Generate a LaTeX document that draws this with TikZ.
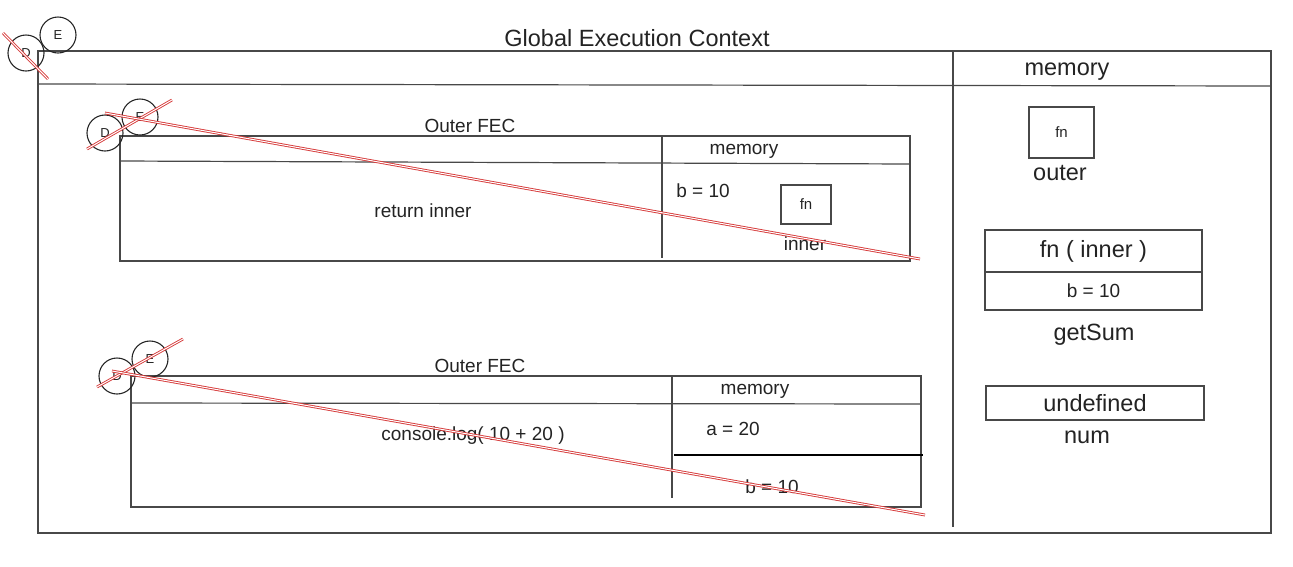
\documentclass[tikz,border=0pt]{standalone}
\usepackage{fontspec}
\setmainfont{Liberation Sans}
\begin{document}
\begin{tikzpicture}[x=1pt, y=-1pt, font=\fontsize{19}{22}\selectfont]
		\definecolor{framegray}{RGB}{72,72,72}
		\definecolor{inkgray}{RGB}{35,35,35}
		\definecolor{strikered}{RGB}{214,58,58}
		\tikzset{
			frame/.style={draw=framegray, line width=1.2pt},
			valbox/.style={draw=framegray, line width=1.2pt, inner sep=0pt, text=inkgray},
			tagcircle/.style={circle, draw=black!85, line width=1.1pt, minimum size=36pt, inner sep=0pt, font=\fontsize{13}{15}\selectfont, text=inkgray},
			strike/.style={draw=strikered, line width=0.9pt, double=white, double distance=1pt},
			txt/.style={text=inkgray, inner sep=0pt},
			big/.style={font=\fontsize{23.5}{26}\selectfont},
			small/.style={font=\fontsize{15}{17}\selectfont}
		}
		\useasboundingbox (0,0) rectangle (1293,566);
		
		% 全局执行上下文
		\draw[frame] (38,51) rectangle (1271,533);
		\draw[frame] (38,84) -- (1271,86);
		\draw[frame] (953,51) -- (953,527);
		\node[txt, big] (gectitle) at (637,38) {Global Execution Context};
		\node[txt, big] (gmem) at (1067,72) {memory};
		\node[tagcircle] (gd) at (26,53) {D};
		\node[tagcircle] (ge) at (58,35) {E};
		\draw[strike] (3,33) -- (48,79);
		
		% 全局 memory
		\node[valbox, minimum width=65pt, minimum height=51pt, small] (outerfn) at (1061.5,132.5) {fn};
		\node[txt, big] (outerlbl) at (1060,173) {outer};
		\node[valbox, minimum width=217pt, minimum height=42pt, big] (sumfn) at (1093.5,251) {fn ( inner )};
		\node[valbox, minimum width=217pt, minimum height=38pt] (sumb) at (1093.5,291) {b = 10};
		\node[txt, big] (sumlbl) at (1094,335) {getSum};
		\node[valbox, minimum width=218pt, minimum height=34pt, big] (numval) at (1095,403) {undefined};
		\node[txt, big] (numlbl) at (1087,437) {num};
		
		% 第一个 Outer FEC
		\draw[frame] (120,136) rectangle (910,261);
		\draw[frame] (120,161) -- (910,164);
		\draw[frame] (662,136) -- (662,258);
		\node[txt] (fecatitle) at (470,126) {Outer FEC};
		\node[txt] (fecamem) at (744,151) {memory};
		\node[txt] (fecacode) at (423,211) {return inner};
		\node[txt] (fecab) at (703,191) {b = 10};
		\node[valbox, minimum width=50pt, minimum height=39pt, small] (innerfn) at (806,204.5) {fn};
		\node[txt] (innerlbl) at (805,244) {inner};
		\node[tagcircle] (fecad) at (105,133) {D};
		\node[tagcircle] (fecae) at (140,117) {E};
		\draw[strike] (87,149) -- (172,100);
		\draw[strike] (105,113) -- (920,259);
		
		% 第二个 Outer FEC
		\draw[frame] (131,376) rectangle (921,507);
		\draw[frame] (131,403) -- (921,404);
		\draw[frame] (672,376) -- (672,498);
		\draw[frame, draw=black] (674,455) -- (923,455);
		\node[txt] (fecbtitle) at (480,366) {Outer FEC};
		\node[txt] (fecbmem) at (755,391) {memory};
		\node[txt] (fecbcode) at (473,436) {console.log( 10 + 20 )};
		\node[txt] (fecba) at (733,429) {a = 20};
		\node[txt] (fecbb) at (772,487) {b = 10};
		\node[tagcircle] (fecbd) at (117,376) {D};
		\node[tagcircle] (fecbe) at (150,359) {E};
		\draw[strike] (97,387) -- (183,339);
		\draw[strike] (112,371) -- (925,515);
	\end{tikzpicture}
\end{document}
